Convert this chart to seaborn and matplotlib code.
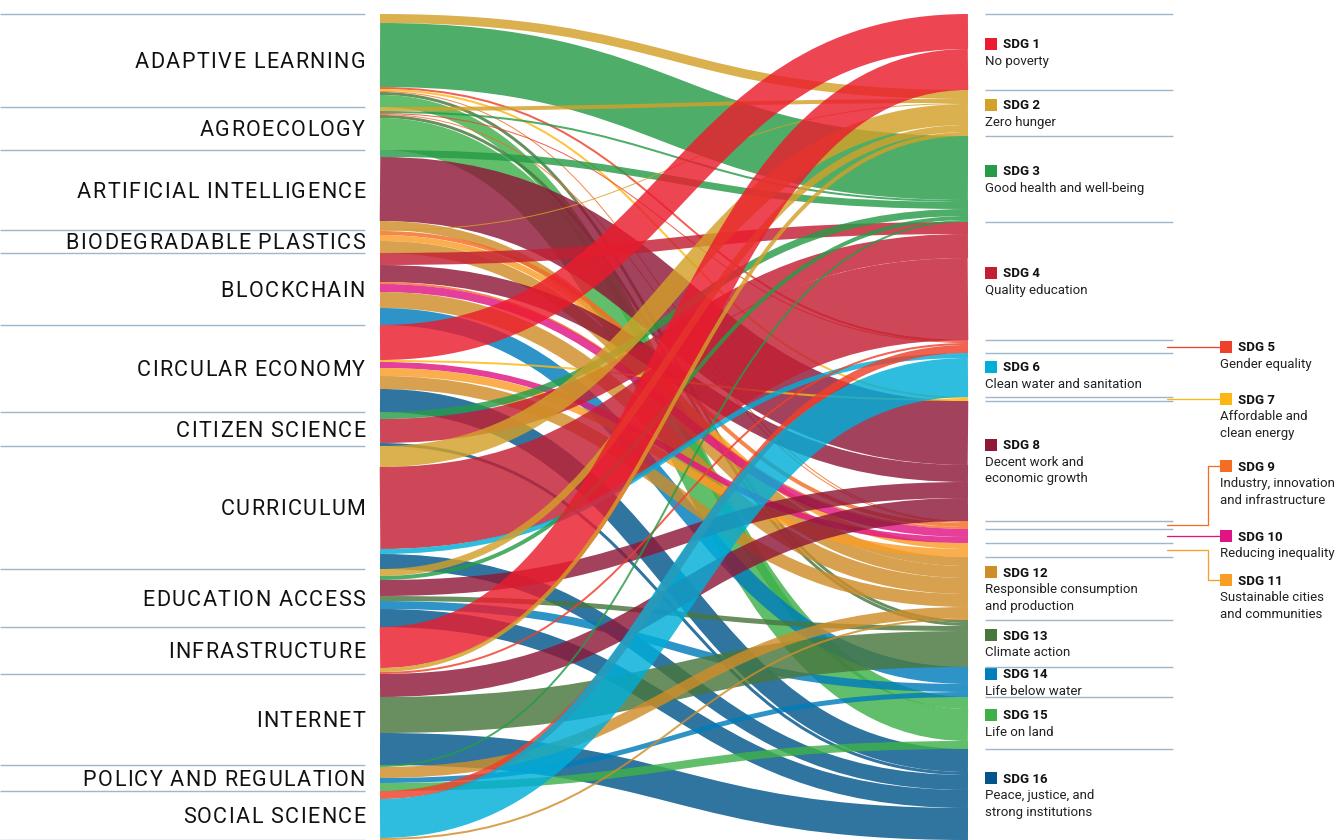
import numpy as np
import pandas as pd
import seaborn as sns
import matplotlib
matplotlib.use("Agg")
import matplotlib.pyplot as plt
from matplotlib.path import Path
from matplotlib.patches import PathPatch, Rectangle
from matplotlib.font_manager import FontProperties, findfont, get_font

sns.set_theme(style="white")
plt.rcParams['font.family'] = ['Roboto', 'DejaVu Sans']

# ---------------- data ----------------
topics = ["ADAPTIVE LEARNING", "AGROECOLOGY", "ARTIFICIAL INTELLIGENCE",
          "BIODEGRADABLE PLASTICS", "BLOCKCHAIN", "CIRCULAR ECONOMY",
          "CITIZEN SCIENCE", "CURRICULUM", "EDUCATION ACCESS", "INFRASTRUCTURE",
          "INTERNET", "POLICY AND REGULATION", "SOCIAL SCIENCE"]
sdg_ids = [f"SDG {i}" for i in range(1, 17)]
sdg_names = ["No poverty", "Zero hunger", "Good health and well-being",
             "Quality education", "Gender equality", "Clean water and sanitation",
             "Affordable and\nclean energy", "Decent work and\neconomic growth",
             "Industry, innovation\nand infrastructure", "Reducing inequality",
             "Sustainable cities\nand communities",
             "Responsible consumption\nand production", "Climate action",
             "Life below water", "Life on land",
             "Peace, justice, and\nstrong institutions"]
sdg_colors = ["#EB1C2D", "#D3A029", "#279B48", "#C31F33", "#EF402B", "#00AED9",
              "#FDB713", "#8F1838", "#F36D25", "#E11484", "#F99D26", "#CF8D2A",
              "#48773E", "#007DBC", "#3EB049", "#02558B"]

# link values per topic, columns = SDG 1 ... SDG 16
adaptive_learning       = [0, 9, 64, 0, 2, 0, 2, 0, 1, 0, 0, 0, 3, 0, 12, 0]
agroecology             = [0, 4, 2, 0, 1, 0, 0, 0, 1, 0, 0, 0, 3, 0, 32, 0]
artificial_intelligence = [0, 0, 7, 0, 0, 0, 0, 64, 0, 0, 0, 9, 0, 0, 0, 0]
biodegradable_plastics  = [0, 1, 0, 0, 0, 0, 0, 0, 4, 0, 6, 12, 0, 0, 0, 0]
blockchain              = [0, 0, 0, 12, 0, 0, 0, 17, 2, 8, 0, 16, 0, 17, 0, 0]
circular_economy        = [35, 0, 0, 0, 0, 0, 2, 0, 0, 6, 8, 13, 0, 0, 0, 23]
citizen_science         = [0, 0, 7, 24, 0, 0, 0, 0, 0, 0, 0, 0, 0, 0, 0, 3]
curriculum              = [0, 21, 0, 82, 0, 5, 0, 0, 0, 0, 0, 0, 0, 0, 0, 15]
education_access        = [0, 7, 4, 0, 0, 0, 0, 16, 0, 0, 0, 0, 5, 8, 0, 18]
infrastructure          = [41, 4, 0, 0, 2, 0, 0, 0, 0, 0, 0, 0, 0, 0, 0, 0]
internet                = [0, 0, 0, 0, 0, 0, 0, 23, 0, 0, 0, 0, 36, 0, 0, 32]
policy_and_regulation   = [0, 0, 2, 0, 0, 0, 0, 0, 0, 0, 0, 11, 0, 5, 8, 0]
social_science          = [0, 0, 0, 0, 8, 39, 0, 0, 0, 0, 0, 2, 0, 0, 0, 0]

rows = [adaptive_learning, agroecology, artificial_intelligence,
        biodegradable_plastics, blockchain, circular_economy, citizen_science,
        curriculum, education_access, infrastructure, internet,
        policy_and_regulation, social_science]
flows = pd.DataFrame(rows, index=topics, columns=sdg_ids, dtype=float)

# ---------------- layout ----------------
W, H = 1338, 840
fig = plt.figure(figsize=(W / 100, H / 100), dpi=100)
ax = fig.add_axes([0, 0, 1, 1])
ax.set_xlim(0, W)
ax.set_ylim(H, 0)
ax.axis("off")
renderer = fig.canvas.get_renderer()

TOP, BOTTOM = 14, 840
X_LEFT, X_RIGHT = 380, 968
k = (BOTTOM - TOP) / flows.values.sum()
PT = 72 / 100  # points per pixel
ALPHA = 0.82
SEP = "#9DB8CC"

src_tot = flows.sum(axis=1).values
tgt_tot = flows.sum(axis=0).values
src_y0 = TOP + k * np.concatenate([[0], np.cumsum(src_tot)[:-1]])
tgt_y0 = TOP + k * np.concatenate([[0], np.cumsum(tgt_tot)[:-1]])

# target-side offsets (ordered by source)
tgt_pos = {}
for j in range(len(sdg_ids)):
    off = tgt_y0[j]
    for i in range(len(topics)):
        v = flows.iat[i, j]
        if v > 0:
            w = v * k
            tgt_pos[(i, j)] = off + w / 2
            off += w

xm = (X_LEFT + X_RIGHT) / 2
for i in range(len(topics)):
    off = src_y0[i]
    for j in range(len(sdg_ids)):
        v = flows.iat[i, j]
        if v <= 0:
            continue
        w = v * k
        ys = off + w / 2
        off += w
        yt = tgt_pos[(i, j)]
        path = Path([(X_LEFT, ys), (xm, ys), (xm, yt), (X_RIGHT, yt)],
                    [Path.MOVETO, Path.CURVE4, Path.CURVE4, Path.CURVE4])
        ax.add_patch(PathPatch(path, fc="none", ec=sdg_colors[j],
                               lw=max(w, 1.0) * PT, alpha=ALPHA,
                               capstyle="butt", joinstyle="round"))

# ---------------- left labels (tracked capitals) ----------------
LEFT_SIZE = 15.5
TRACK = 1.45
SPACE_SCALE = 0.9
cap = 0.711 * LEFT_SIZE / PT


def char_advances(text, size_pt):
    fp = FontProperties(family="Roboto")
    font = get_font(findfont(fp))
    font.set_size(size_pt, 100)
    raw = [font.load_char(ord(c)).linearHoriAdvance for c in text]
    t = ax.text(0, 0, text, fontsize=size_pt, family="Roboto")
    real = t.get_window_extent(renderer).width
    t.remove()
    ratio = real / sum(raw)
    return [r * ratio * (SPACE_SCALE if c == " " else 1.0)
            for r, c in zip(raw, text)]


src_y1 = src_y0 + src_tot * k
for yb in list(src_y0) + [BOTTOM]:
    ax.plot([0, 365], [yb, yb], color=SEP, lw=1.4 * PT, solid_capstyle="butt")
for i, name in enumerate(topics):
    adv = char_advances(name, LEFT_SIZE)
    total_w = sum(adv) + TRACK * (len(name) - 1)
    x = 365 - total_w
    yc = (src_y0[i] + src_y1[i]) / 2
    for c, a in zip(name, adv):
        if c != " ":
            ax.text(x, yc + cap / 2, c, fontsize=LEFT_SIZE, color="#111111",
                    ha="left", va="baseline", family="Roboto")
        x += a + TRACK

# ---------------- right labels ----------------
tgt_y1 = tgt_y0 + tgt_tot * k
for yb in list(tgt_y0):
    ax.plot([985, 1173], [yb, yb], color=SEP, lw=1.4 * PT, solid_capstyle="butt")

FS = 9.5
LINE = 16.5
capr = 0.711 * FS / PT
small = {5: 0, 7: 0, 9: -59, 10: 0, 11: 30}   # title shifts for side column
SQ = 12
for j, sid in enumerate(sdg_ids):
    num = j + 1
    yc = (tgt_y0[j] + tgt_y1[j]) / 2
    desc = sdg_names[j].split("\n")
    if num in small:
        xs = 1220
        yt = yc + small[num]
        if small[num] == 0:
            ax.plot([1167, xs], [yc, yc], color=sdg_colors[j], lw=1.3 * PT)
        else:
            ax.plot([1167, 1208, 1208, xs], [yc, yc, yt, yt],
                    color=sdg_colors[j], lw=1.3 * PT)
    else:
        xs = 985
        yt = yc - LINE * len(desc) / 2
    ax.add_patch(Rectangle((xs, yt - SQ / 2), SQ, SQ, color=sdg_colors[j], lw=0))
    ax.text(xs + 18, yt + capr / 2, sid, fontsize=FS, fontweight="bold",
            color="#111111", ha="left", va="baseline")
    for n, line in enumerate(desc):
        ax.text(xs, yt + LINE * (n + 1) + capr / 2, line, fontsize=FS,
                color="#222222", ha="left", va="baseline")

fig.savefig("out.png", dpi=100, facecolor="white")
